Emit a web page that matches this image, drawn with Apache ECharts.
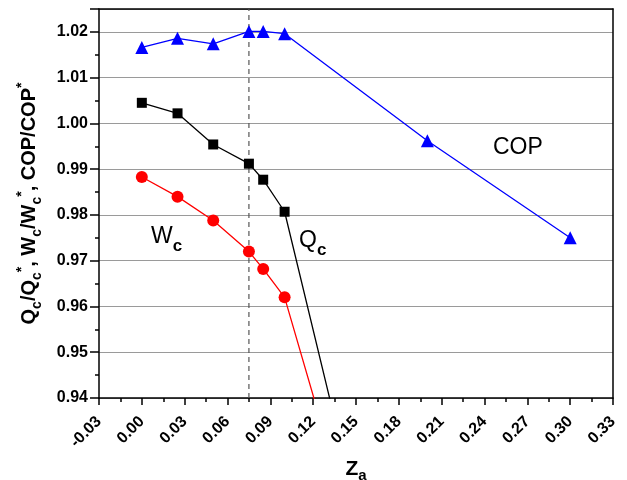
<!DOCTYPE html>
<html>
<head>
<meta charset="utf-8">
<script src="https://cdn.jsdelivr.net/npm/echarts@6/dist/echarts.min.js"></script>
<style>
  html, body { margin: 0; padding: 0; background: #fff; }
  #chart { width: 627px; height: 480px; }
</style>
</head>
<body>
<div id="chart"></div>
<script>
// data
const zaValues = [0, 0.025, 0.05, 0.075, 0.085, 0.1, 0.2, 0.3];
const copRatio = [1.0166, 1.0186, 1.0174, 1.0201, 1.0201, 1.0196, 0.9962, 0.975];
const qcRatio = [1.0045, 1.0022, 0.9954, 0.9912, 0.9877, 0.9807, 0.8515];
const wcRatio = [0.9883, 0.9840, 0.9788, 0.9720, 0.9682, 0.9620, 0.8547];
const refZa = 0.075;
const yMin = 0.94;
const yMax = 1.025;

const FONT = 'Arial, "Liberation Sans", sans-serif';

const pairs = (ys) => ys.map((y, i) => [zaValues[i], y]);

const chart = echarts.init(document.getElementById('chart'));

const sub = { fontFamily: FONT, fontWeight: 'bold', verticalAlign: 'bottom' };
const axisLine = { onZero: false, lineStyle: { color: '#000', width: 1.5 } };

chart.setOption({
    animation: false,
    grid: { left: 99, right: 14, top: 9, bottom: 82, containLabel: false, outerBoundsMode: 'none' },
    xAxis: [
        {
            type: 'value',
            min: -0.03,
            max: 0.33,
            interval: 0.03,
            name: '{z|Z}{a|a}',
            nameLocation: 'middle',
            nameGap: 57,
            nameTextStyle: {
                rich: {
                    z: { fontFamily: FONT, fontWeight: 'bold', fontSize: 21, lineHeight: 28 },
                    a: Object.assign({ fontSize: 15 }, sub),
                },
            },
            axisLine: axisLine,
            axisTick: { inside: false, length: 7, lineStyle: { color: '#000', width: 1.5 } },
            minorTick: { show: true, splitNumber: 2, length: 4, lineStyle: { color: '#000', width: 1.5 } },
            splitLine: { show: false },
            axisLabel: {
                rotate: 45,
                margin: 21,
                fontFamily: FONT,
                fontWeight: 'bold',
                fontSize: 16,
                color: '#000',
                formatter: (v) => v.toFixed(2),
            },
        },
        {
            type: 'value',
            position: 'top',
            min: -0.03,
            max: 0.33,
            axisLine: axisLine,
            axisTick: { show: false },
            axisLabel: { show: false },
            splitLine: { show: false },
        },
    ],
    yAxis: [
        {
            type: 'value',
            min: yMin,
            max: yMax,
            interval: 0.01,
            name: '{b|Q}{s|c}{b|/Q}{s|c}{p|*}{b|, W}{s|c}{b|/W}{s|c}{p|*}{b|, COP/COP}{p|*}',
            nameLocation: 'middle',
            nameRotate: 90,
            nameGap: 55,
            nameTextStyle: {
                rich: {
                    b: { fontFamily: FONT, fontWeight: 'bold', fontSize: 20, lineHeight: 29 },
                    s: Object.assign({ fontSize: 14 }, sub),
                    p: { fontFamily: FONT, fontWeight: 'bold', fontSize: 14, verticalAlign: 'top' },
                },
            },
            axisLine: axisLine,
            axisTick: { inside: false, length: 9, lineStyle: { color: '#000', width: 1.5 } },
            minorTick: { show: true, splitNumber: 2, length: 4, lineStyle: { color: '#000', width: 1.5 } },
            splitLine: { show: true, lineStyle: { color: '#9a9a9a', width: 1 } },
            axisLabel: {
                margin: 11,
                fontFamily: FONT,
                fontWeight: 'bold',
                fontSize: 16,
                color: '#000',
                showMaxLabel: false,
                formatter: (v) => v.toFixed(2),
            },
        },
        {
            type: 'value',
            position: 'right',
            min: yMin,
            max: yMax,
            axisLine: Object.assign({ show: true }, axisLine),
            axisTick: { show: false },
            axisLabel: { show: false },
            splitLine: { show: false },
        },
    ],
    series: [
        {
            name: 'ref',
            type: 'line',
            data: [[refZa, yMin], [refZa, yMax]],
            symbol: 'none',
            lineStyle: { color: '#555', type: [5, 4], width: 1.2 },
            z: 1,
        },
        {
            name: 'COP',
            type: 'line',
            data: pairs(copRatio),
            symbol: 'triangle',
            symbolSize: 13,
            clip: true,
            itemStyle: { color: '#0000ff' },
            lineStyle: { color: '#0000ff', width: 1.3 },
        },
        {
            name: 'Qc',
            type: 'line',
            data: pairs(qcRatio),
            symbol: 'rect',
            symbolSize: 10,
            clip: true,
            itemStyle: { color: '#000' },
            lineStyle: { color: '#000', width: 1.3 },
        },
        {
            name: 'Wc',
            type: 'line',
            data: pairs(wcRatio),
            symbol: 'circle',
            symbolSize: 12,
            clip: true,
            itemStyle: { color: '#ff0000' },
            lineStyle: { color: '#ff0000', width: 1.3 },
        },
    ],
    graphic: [
        {
            type: 'text',
            x: 493,
            y: 148,
            style: { text: 'COP', font: '23px ' + FONT, fill: '#000', verticalAlign: 'middle' },
        },
        {
            type: 'text',
            x: 151,
            y: 237,
            style: {
                text: '{m|W}{s|c}',
                fill: '#000',
                verticalAlign: 'middle',
                rich: {
                    m: { fontFamily: FONT, fontSize: 23, lineHeight: 36 },
                    s: Object.assign({ fontSize: 17 }, sub),
                },
            },
        },
        {
            type: 'text',
            x: 299,
            y: 241,
            style: {
                text: '{m|Q}{s|c}',
                fill: '#000',
                verticalAlign: 'middle',
                rich: {
                    m: { fontFamily: FONT, fontSize: 23, lineHeight: 36 },
                    s: Object.assign({ fontSize: 17 }, sub),
                },
            },
        },
    ],
});
</script>
</body>
</html>
